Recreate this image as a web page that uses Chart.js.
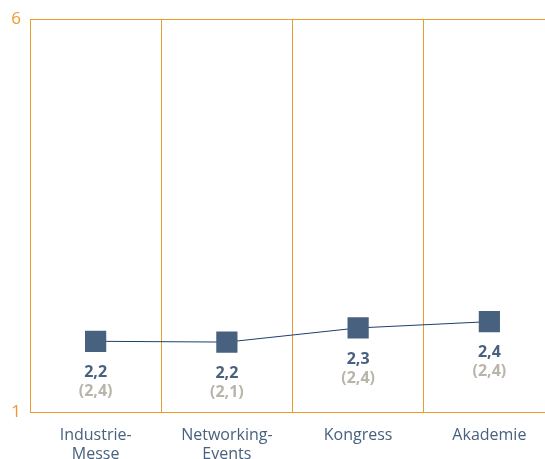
<!DOCTYPE html>
<html>
<head>
<meta charset="utf-8">
<script src="https://cdn.jsdelivr.net/npm/chart.js@4/dist/chart.umd.min.js"></script>
<style>
  html, body { margin: 0; padding: 0; background: #fff; overflow: hidden; }
</style>
</head>
<body>
<canvas id="chart" width="545" height="459"></canvas>
<script>
const kategorien = [['Industrie-', 'Messe'], ['Networking-', 'Events'], 'Kongress', 'Akademie'];
const werte = [1.9, 1.89, 2.07, 2.15];
const wertLabels = ['2,2', '2,2', '2,3', '2,4'];
const vorjahrLabels = ['(2,4)', '(2,1)', '(2,4)', '(2,4)'];

const ORANGE = '#ee9a2e';
const BLAU = '#48617f';
const GRAU = '#b9b5aa';
const FONT = "'Open Sans', 'Noto Sans', sans-serif";

// Plotbereich rechts ueber den Bildrand hinaus verlaengern
const breiterPlugin = {
  id: 'breiter',
  afterLayout(chart) {
    const extra = 10;
    const x = chart.scales.x;
    x.right += extra;
    x.width += extra;
    x.configure();
    chart.chartArea.right += extra;
    chart.chartArea.width += extra;
  }
};

// Beschriftung unter den Punkten
const labelPlugin = {
  id: 'punktLabels',
  afterDatasetsDraw(chart) {
    const ctx = chart.ctx;
    const meta = chart.getDatasetMeta(0);
    ctx.save();
    ctx.textAlign = 'center';
    ctx.textBaseline = 'middle';
    meta.data.forEach(function (p, i) {
      ctx.font = 'bold 16px ' + FONT;
      ctx.fillStyle = BLAU;
      ctx.fillText(wertLabels[i], p.x, p.y + 31);
      ctx.fillStyle = GRAU;
      ctx.fillText(vorjahrLabels[i], p.x, p.y + 50);
    });
    ctx.restore();
  }
};

new Chart(document.getElementById('chart'), {
  type: 'line',
  data: {
    labels: kategorien,
    datasets: [{
      data: werte,
      borderColor: '#1d3f6e',
      borderWidth: 1,
      pointStyle: 'rect',
      pointRadius: 15,
      pointHoverRadius: 15,
      pointBackgroundColor: BLAU,
      pointBorderColor: BLAU,
      pointBorderWidth: 0,
      tension: 0
    }]
  },
  options: {
    responsive: false,
    animation: false,
    events: [],
    layout: { autoPadding: false, padding: { top: 18, right: 0, left: 0, bottom: 0 } },
    plugins: {
      legend: { display: false },
      tooltip: { enabled: false }
    },
    scales: {
      x: {
        offset: true,
        grid: { offset: true, color: ORANGE, lineWidth: 1, drawTicks: false },
        border: { color: ORANGE, width: 1 },
        ticks: { color: BLAU, font: { family: FONT, size: 16, lineHeight: 1.2 }, padding: 14, maxRotation: 0, autoSkip: false },
        afterFit(scale) { scale.height = 47; }
      },
      y: {
        min: 1,
        max: 6,
        ticks: { stepSize: 5, color: ORANGE, font: { family: FONT, size: 17 }, padding: 9 },
        grid: { color: ORANGE, lineWidth: 1, drawTicks: false },
        border: { color: ORANGE, width: 1 },
        afterFit(scale) { scale.width = 30; }
      }
    }
  },
  plugins: [breiterPlugin, labelPlugin]
});
</script>
</body>
</html>
